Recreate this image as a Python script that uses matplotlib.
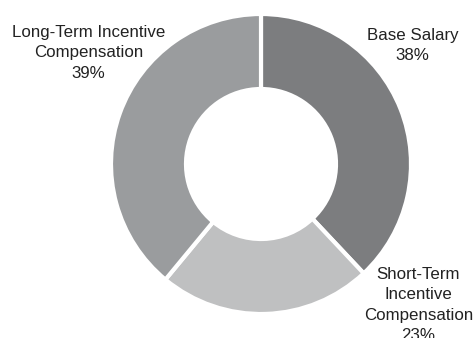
import matplotlib.pyplot as plt

# slice data, clockwise from 12 o'clock
labels = ['Base Salary\n38%',
          'Short-Term\nIncentive\nCompensation\n23%',
          'Long-Term Incentive\nCompensation\n39%']
shares = [38, 23, 39]
colors = ['#7c7d7f', '#bfc0c1', '#9a9c9e']

# label anchor points in data units (radius = 1)
label_pos = [(1.01, 0.79), (1.05, -0.94), (-1.15, 0.74)]

plt.rcParams['font.family'] = ['Liberation Sans', 'DejaVu Sans']

fig = plt.figure(figsize=(4.74, 3.38), dpi=100)
ax = fig.add_axes([111 / 474, 24 / 338, 300 / 474, 300 / 338])

ax.pie(shares, colors=colors, startangle=90, counterclock=False,
       radius=1, wedgeprops=dict(width=0.5, edgecolor='white', linewidth=3))

for txt, (x, y) in zip(labels, label_pos):
    ax.text(x, y, txt, ha='center', va='center', fontsize=12.2,
            color='#222222', linespacing=1.42, clip_on=False)

ax.set_xlim(-1, 1)
ax.set_ylim(-1, 1)
ax.set_aspect('equal')
ax.axis('off')

fig.savefig('out.png', dpi=100)
